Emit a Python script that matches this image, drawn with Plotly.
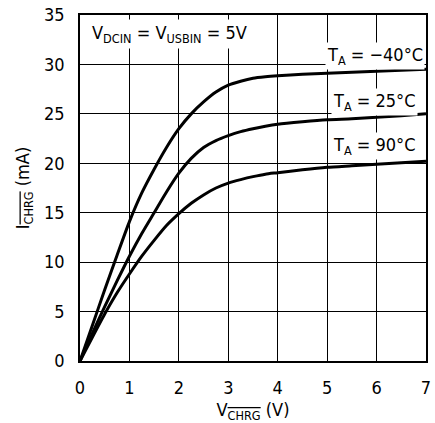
import plotly.graph_objects as go

# Data (V_CHRG in V, I_CHRG in mA)
v = [0, 0.25, 0.5, 0.75, 1.0, 1.25, 1.5, 1.75, 2.0, 2.25, 2.5, 2.75, 3.0,
     3.25, 3.5, 3.75, 4.0, 4.5, 5.0, 5.5, 6.0, 6.5, 7.0]
i_m40 = [0, 3.6, 7.2, 10.7, 14.1, 17.0, 19.4, 21.6, 23.5, 25.0, 26.2, 27.2, 27.9,
         28.3, 28.6, 28.75, 28.85, 29.0, 29.1, 29.2, 29.3, 29.4, 29.5]
i_25 = [0, 2.8, 5.5, 8.1, 10.6, 12.9, 15.0, 17.1, 19.0, 20.5, 21.6, 22.3, 22.8,
        23.2, 23.5, 23.75, 23.95, 24.2, 24.4, 24.5, 24.65, 24.8, 25.0]
i_90 = [0, 2.4, 4.75, 6.9, 8.8, 10.6, 12.2, 13.7, 14.9, 15.95, 16.8, 17.5, 18.0,
        18.35, 18.65, 18.9, 19.05, 19.35, 19.6, 19.75, 19.9, 20.05, 20.2]

x_ticks = [0, 1, 2, 3, 4, 5, 6, 7]
y_ticks = [0, 5, 10, 15, 20, 25, 30, 35]

labels = ["T<sub>A</sub> = −40°C", "T<sub>A</sub> = 25°C", "T<sub>A</sub> = 90°C"]
label_x = [5.97, 5.95, 5.95]
label_y = [30.9, 26.2, 21.7]

FONT = "DejaVu Sans Condensed, Liberation Sans Narrow, Arial Narrow, sans-serif"

fig = go.Figure()
for iy in [i_m40, i_25, i_90]:
    fig.add_trace(go.Scatter(x=v, y=iy, mode="lines",
                             line=dict(color="black", width=3, shape="spline", smoothing=0.6),
                             showlegend=False, hoverinfo="skip"))

for t, lx, ly in zip(labels, label_x, label_y):
    fig.add_annotation(x=lx, y=ly, text=t, showarrow=False, bgcolor="white",
                       font=dict(family=FONT, size=18, color="black"), borderpad=1)

fig.add_annotation(x=1.82, y=33.1, text="V<sub>DCIN</sub> = V<sub>USBIN</sub> = 5V",
                   showarrow=False, bgcolor="white",
                   font=dict(family=FONT, size=18, color="black"), borderpad=2)

fig.update_layout(
    width=435, height=423,
    margin=dict(l=80, r=4, t=14, b=59),
    paper_bgcolor="white", plot_bgcolor="white",
    font=dict(family=FONT, size=18, color="black"),
)
fig.update_xaxes(range=[0, 7], tickvals=x_ticks, ticktext=[str(t) for t in x_ticks],
                 showgrid=True, gridcolor="black", gridwidth=1,
                 showline=True, linecolor="black", linewidth=1.5, mirror=True,
                 zeroline=False, ticks="", ticklabelstandoff=10,
                 title=dict(text='V<sub><span style="text-decoration:overline">CHRG</span></sub> (V)',
                            standoff=8, font=dict(size=18)))
fig.update_yaxes(range=[0, 35], tickvals=y_ticks, ticktext=[str(t) for t in y_ticks],
                 showgrid=True, gridcolor="black", gridwidth=1,
                 showline=True, linecolor="black", linewidth=1.5, mirror=True,
                 zeroline=False, ticks="", ticklabelstandoff=10,
                 title=dict(text='I<sub><span style="text-decoration:overline">CHRG</span></sub> (mA)',
                            standoff=10, font=dict(size=18)))

fig.write_html("out.html")
